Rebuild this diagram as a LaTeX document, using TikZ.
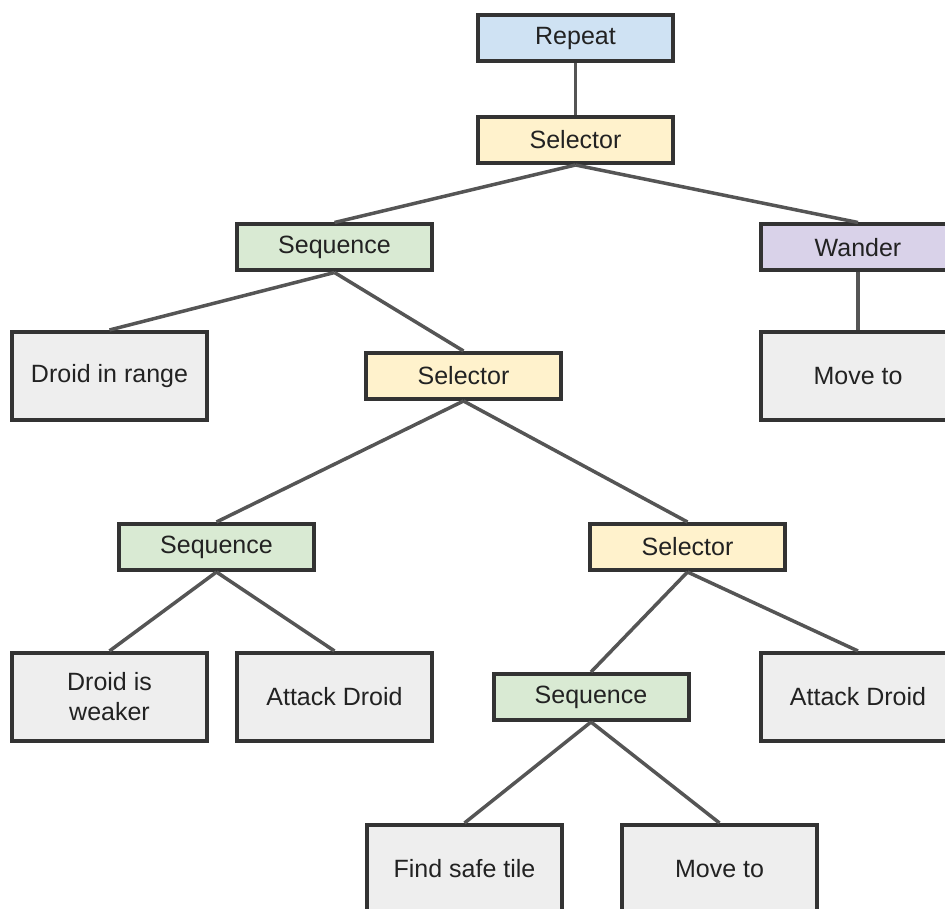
\documentclass[tikz,border=0pt]{standalone}
\usepackage{fontspec}
\setmainfont{Liberation Sans}
\definecolor{edgegray}{HTML}{555555}
\definecolor{boxline}{HTML}{333333}
\definecolor{repeatfill}{HTML}{CFE2F3}
\definecolor{selfill}{HTML}{FFF2CC}
\definecolor{seqfill}{HTML}{D9EAD3}
\definecolor{wanderfill}{HTML}{D9D2E9}
\definecolor{leaffill}{HTML}{EEEEEE}
\definecolor{txt}{HTML}{222222}
\tikzset{
  btnode/.style={draw=boxline, line width=4pt, minimum width=195pt, inner sep=0pt,
    text=txt, font=\fontsize{25}{30}\selectfont, align=center},
  ctrl/.style={btnode, minimum height=46pt},
  leaf/.style={btnode, minimum height=88pt, fill=leaffill},
  link/.style={draw=edgegray, line width=3.5pt}
}
\begin{document}
\begin{tikzpicture}[x=1pt, y=-1pt]
\useasboundingbox (0,0) rectangle (945,909);
\clip (0,0) rectangle (945,909);
% composite nodes
\node[ctrl, fill=repeatfill] (repeat) at (575.5,38) {Repeat};
\node[ctrl, fill=selfill] (selA) at (575.5,140) {Selector};
\node[ctrl, fill=seqfill] (seqA) at (334.5,247.5) {Sequence};
\node[ctrl, fill=wanderfill] (wander) at (858,247.5) {Wander};
\node[ctrl, fill=selfill] (selB) at (463.5,376) {Selector};
\node[ctrl, fill=seqfill] (seqB) at (216.5,547) {Sequence};
\node[ctrl, fill=selfill] (selC) at (687.5,547) {Selector};
\node[ctrl, fill=seqfill] (seqC) at (591,697) {Sequence};
% leaf tasks
\node[leaf] (inrange) at (109.5,376) {Droid in range};
\node[leaf] (moveA) at (858,376) {Move to};
\node[leaf] (weaker) at (109.5,697) {Droid is\\weaker};
\node[leaf] (attackA) at (334.5,697) {Attack Droid};
\node[leaf] (attackB) at (858,697) {Attack Droid};
\node[leaf] (safe) at (464.5,869) {Find safe tile};
\node[leaf] (moveB) at (719.5,869) {Move to};
% tree links
\path[link] (repeat.south) -- (selA.north);
\path[link] (selA.south) -- (seqA.north);
\path[link] (selA.south) -- (wander.north);
\path[link] (wander.south) -- (moveA.north);
\path[link] (seqA.south) -- (inrange.north);
\path[link] (seqA.south) -- (selB.north);
\path[link] (selB.south) -- (seqB.north);
\path[link] (selB.south) -- (selC.north);
\path[link] (seqB.south) -- (weaker.north);
\path[link] (seqB.south) -- (attackA.north);
\path[link] (selC.south) -- (seqC.north);
\path[link] (selC.south) -- (attackB.north);
\path[link] (seqC.south) -- (safe.north);
\path[link] (seqC.south) -- (moveB.north);
\end{tikzpicture}
\end{document}
